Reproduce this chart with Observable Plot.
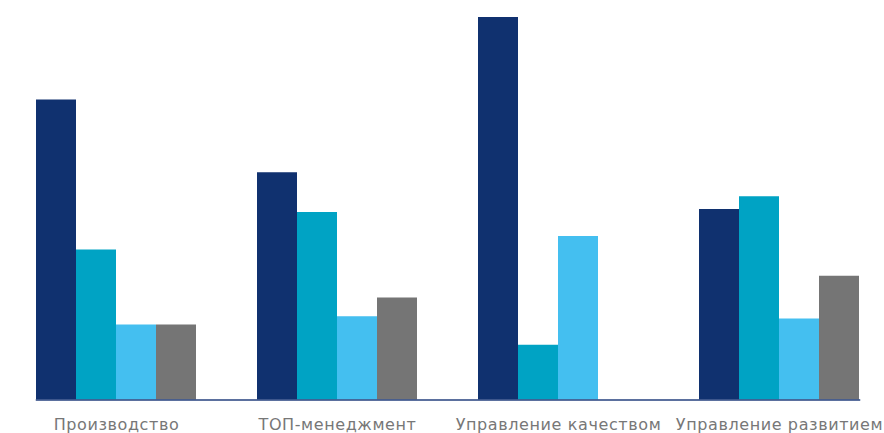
<!DOCTYPE html>
<html><head><meta charset="utf-8">
<script src="https://cdn.jsdelivr.net/npm/d3@7"></script>
<script src="https://cdn.jsdelivr.net/npm/@observablehq/plot@0.6"></script>
<style>body{margin:0;background:#fff;} svg{display:block}</style>
</head><body><div id="chart"></div>
<script>
const categories = ["Производство", "ТОП-менеджмент", "Управление качеством", "Управление развитием"];
const series = ["s1", "s2", "s3", "s4"];
const colors = ["#10316f", "#00a3c4", "#44bff0", "#757575"];
const s1 = [40, 30.3, 51, 25.4];
const s2 = [20, 25, 7.3, 27.1];
const s3 = [10, 11.1, 21.8, 10.8];
const s4 = [10, 13.6, null, 16.5];

const values = [s1, s2, s3, s4];
const data = [];
categories.forEach((c, i) => series.forEach((s, j) => {
  if (values[j][i] != null) data.push({group: c, series: s, value: values[j][i]});
}));

const chart = Plot.plot({
  width: 884, height: 433,
  marginLeft: 5, marginRight: 0, marginTop: 17, marginBottom: 33.5,
  style: {fontFamily: "'DejaVu Sans', sans-serif", background: "#fff"},
  fx: {domain: categories, paddingInner: 0.278, paddingOuter: 0.12, align: 0.545, label: null, tickSize: 0, tickPadding: 19, fontSize: 16},
  x: {domain: series, axis: null, padding: 0},
  y: {domain: [0, 51], axis: null},
  color: {domain: series, range: colors},
  marks: [
    Plot.barY(data, {fx: "group", x: "series", y: "value", fill: "series"}),
    Plot.frame({anchor: "bottom", stroke: "#24407e", strokeWidth: 1.5, facet: "super"})
  ]
});
d3.select(chart).selectAll("g[aria-label='fx-axis tick label'] text, g[aria-label='fx-axis'] text")
  .attr("fill", "#777").style("font-size", "16px").style("letter-spacing", "0.6px");
document.getElementById("chart").append(chart);
</script></body></html>
